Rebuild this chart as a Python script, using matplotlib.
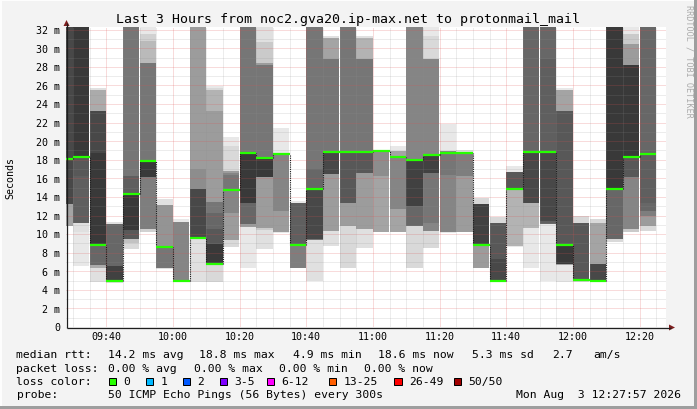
import matplotlib
matplotlib.use('Agg')
import matplotlib.pyplot as plt
from matplotlib.patches import Rectangle, Polygon

W, H = 697, 410
plt.rcParams['font.family'] = ['DejaVu Sans Mono', 'DejaVu Sans']

title = 'Last 3 Hours from noc2.gva20.ip-max.net to protonmail_mail'
t_start = '09:27:57'
t_end = '12:27:57'
step_min = 5
y_max = 32.29

# one 5 minute step per entry
bar_start = ['09:25', '09:30', '09:35', '09:40', '09:45', '09:50', '09:55',
             '10:00', '10:05', '10:10', '10:15', '10:20', '10:25', '10:30',
             '10:35', '10:40', '10:45', '10:50', '10:55', '11:00', '11:05',
             '11:10', '11:15', '11:20', '11:25', '11:30', '11:35', '11:40',
             '11:45', '11:50', '11:55', '12:00', '12:05', '12:10', '12:15',
             '12:20']
median_ms = [18.1, 18.3, 8.8, 4.95, 14.3, 17.9, 8.65, 4.95, 9.6, 6.8,
             14.7, 18.75, 18.2, 18.6, 8.8, 14.8, 18.8, 18.8, 18.8, 18.9,
             18.3, 17.95, 18.5, 18.7, 18.7, 8.8, 4.9, 14.85, 18.8, 18.8,
             8.8, 5.1, 4.9, 14.9, 18.3, 18.6]

# smoke: (pings outside the band, low ms, high ms); 40 = above the graph
smoke = [
    [(10, 10.9, 40), (22, 13.2, 40)],
    [(1, 6.6, 40), (2, 10.2, 40), (19, 11.2, 40), (20, 16.3, 40), (24, 18.3, 40)],
    [(2, 4.8, 25.7), (9, 6.3, 25.5), (18, 6.7, 23.2), (22, 8.8, 23.2), (24, 8.8, 18.7)],
    [(2, 4.75, 11.3), (18, 4.9, 11.1), (23, 4.9, 6.6)],
    [(3, 8.4, 40), (6, 9.0, 40), (16, 9.5, 40), (19, 9.5, 16.3), (20, 9.5, 14.3), (24, 10.4, 14.3)],
    [(1, 10.2, 40), (4, 10.2, 31.5), (7, 10.5, 30.8), (15, 10.5, 28.4), (16, 16.1, 28.4), (24, 16.1, 17.9)],
    [(2, 6.25, 13.8), (12, 6.4, 13.1), (16, 6.4, 8.65)],
    [(1, 4.8, 11.6), (14, 4.95, 11.3)],
    [(2, 4.8, 40), (11, 9.6, 40), (13, 9.6, 17.0), (22, 9.6, 14.85)],
    [(1, 4.8, 25.9), (3, 4.8, 25.7), (8, 6.8, 25.5), (11, 6.8, 23.3), (16, 6.8, 13.5),
     (18, 6.8, 12.3), (20, 6.8, 10.5), (24, 6.8, 8.9)],
    [(1, 8.6, 20.5), (3, 8.6, 19.5), (11, 9.4, 16.8), (14, 12.3, 16.6), (16, 14.7, 16.4)],
    [(1, 6.4, 40), (11, 10.8, 40), (16, 11.1, 40), (18, 11.1, 18.75), (24, 13.4, 18.75)],
    [(2, 8.4, 40), (5, 10.4, 30.7), (11, 10.7, 28.4), (16, 16.1, 28.2), (24, 16.1, 18.2)],
    [(1, 10.1, 21.4), (11, 10.2, 18.7), (14, 12.5, 18.6)],
    [(1, 6.3, 13.6), (15, 6.3, 13.4), (19, 8.8, 13.4)],
    [(2, 5.0, 40), (16, 9.4, 40), (18, 9.5, 17.0), (22, 9.5, 14.8)],
    [(2, 8.7, 31.3), (10, 10.3, 31.1), (11, 10.3, 28.8), (16, 16.5, 28.8), (22, 16.5, 18.8)],
    [(3, 6.4, 40), (11, 10.9, 40), (16, 13.4, 40), (20, 13.4, 18.8)],
    [(2, 8.55, 31.3), (8, 10.5, 31.1), (11, 10.5, 28.8), (16, 16.6, 28.8), (20, 16.6, 18.8)],
    [(1, 10.2, 19.1), (10, 10.2, 18.85), (13, 16.2, 18.85)],
    [(1, 10.2, 19.5), (10, 10.2, 18.9), (14, 12.7, 18.3)],
    [(3, 6.4, 40), (14, 10.9, 40), (18, 10.9, 18.0), (23, 13.0, 18.0)],
    [(1, 8.5, 40), (3, 8.5, 31.3), (14, 10.3, 28.8), (16, 11.2, 18.5), (23, 16.6, 18.5)],
    [(1, 10.1, 21.8), (14, 10.2, 18.9), (16, 16.4, 18.7)],
    [(2, 10.2, 19.1), (11, 10.2, 18.8), (15, 16.2, 18.7)],
    [(3, 6.3, 13.9), (11, 6.3, 13.2), (23, 8.8, 13.2)],
    [(3, 4.9, 11.8), (20, 4.9, 11.2), (22, 4.9, 7.3)],
    [(1, 8.6, 17.3), (8, 8.7, 16.7), (20, 14.85, 16.7)],
    [(1, 6.4, 40), (8, 10.7, 40), (18, 13.3, 40), (22, 13.3, 18.8)],
    [(1, 5.0, 40), (18, 11.1, 40), (19, 11.2, 28.8), (22, 11.4, 18.8)],
    [(1, 4.8, 25.7), (10, 6.7, 25.5), (20, 6.8, 23.2), (24, 6.8, 8.8)],
    [(3, 4.8, 11.9), (20, 5.0, 11.2)],
    [(3, 4.9, 11.6), (10, 4.9, 11.2), (22, 4.9, 6.8)],
    [(3, 9.2, 40), (18, 9.5, 40), (24, 14.9, 40)],
    [(1, 10.2, 40), (5, 10.2, 31.5), (11, 10.5, 30.5), (14, 10.5, 28.2), (20, 16.1, 28.2),
     (24, 18.3, 28.2)],
    [(3, 10.3, 40), (11, 10.9, 40), (15, 12.0, 40), (18, 12.5, 40), (19, 13.4, 18.6)],
]

x_ticks = ['09:40', '10:00', '10:20', '10:40', '11:00', '11:20', '11:40', '12:00', '12:20']
y_ticks = [0, 2, 4, 6, 8, 10, 12, 14, 16, 18, 20, 22, 24, 26, 28, 30, 32]

rtt_stats = ['14.2 ms avg', '18.8 ms max', '4.9 ms min', '18.6 ms now', '5.3 ms sd', '2.7', 'am/s']
loss_stats = ['0.00 % avg', '0.00 % max', '0.00 % min', '0.00 % now']
loss_labels = ['0', '1', '2', '3-5', '6-12', '13-25', '26-49', '50/50']
loss_colors = ['#26ff00', '#00b8ff', '#0059ff', '#7e00ff', '#ff00ff', '#ff5e00', '#ff0000', '#a10000']
probe_text = '50 ICMP Echo Pings (56 Bytes) every 300s'
stamp = 'Mon Aug  3 12:27:57 2026'


def minutes(s):
    p = [int(v) for v in s.split(':')]
    m = p[0] * 60 + p[1]
    if len(p) > 2:
        m += p[2] / 60.0
    return m


def gray(rank):
    # smokeping shade: the more pings outside the band, the darker
    g = int(190 / 25 * (25 - rank)) + 50
    return '#%02x%02x%02x' % (g, g, g)


fig = plt.figure(figsize=(W / 100, H / 100), dpi=100)
fig.patch.set_facecolor('#f3f3f3')

ax = fig.add_axes([66 / W, 1 - 328 / H, 600 / W, 300 / H])
ax.set_facecolor('white')
ax.set_xlim(minutes(t_start), minutes(t_end))
ax.set_ylim(0, y_max)
ax.set_xticks([])
ax.set_yticks([])
for sp in ax.spines.values():
    sp.set_visible(False)

# smoke
for i, bands in enumerate(smoke):
    t = minutes(bar_start[i])
    for rank, lo, hi in sorted(bands):
        ax.add_patch(Rectangle((t, lo), step_min, hi - lo, facecolor=gray(rank),
                               edgecolor='none', lw=0, antialiased=False, zorder=1))

# grid (drawn over the smoke, like rrdtool)
red_kw = dict(color='#de4f4f', alpha=0.4, lw=0.72, ls=(0, (1, 1)), zorder=2)
grey_kw = dict(color='#8f8f8f', alpha=0.33, lw=0.72, ls=(0, (1, 1)), zorder=2)
for v in y_ticks[1:]:
    ax.axhline(v, **red_kw)
    ax.axhline(v - 1, **grey_kw)
major_x = [minutes(s) for s in x_ticks]
for s in bar_start:
    x = minutes(s) + step_min
    if x in major_x:
        ax.axvline(x, **red_kw)
    else:
        ax.axvline(x, **grey_kw)

# median steps
for i in range(1, len(median_ms)):
    x = minutes(bar_start[i])
    ax.vlines(x, min(median_ms[i - 1], median_ms[i]), max(median_ms[i - 1], median_ms[i]),
              colors='#1a1a1a', lw=0.8, linestyles=(0, (1, 1)), zorder=3)
starts = [minutes(s) for s in bar_start]
ends = [s + step_min for s in starts]
med = ax.hlines(median_ms, starts, ends, colors=loss_colors[0], lw=1.6, zorder=4)
med.set_capstyle('butt')

# overlay in pixel coordinates for texts, axes and frame
ov = fig.add_axes([0, 0, 1, 1])
ov.set_xlim(0, W)
ov.set_ylim(H, 0)
ov.axis('off')

ov.plot([66.5, 671], [328.5, 328.5], color='#1f1f1f', lw=0.9, solid_capstyle='butt')
ov.plot([66.5, 66.5], [328.5, 24], color='#1f1f1f', lw=0.9, solid_capstyle='butt')
ov.add_patch(Polygon([(669, 325.5), (669, 331.5), (675, 328.5)], closed=True,
                     facecolor='#7f1f1f', edgecolor='none'))
ov.add_patch(Polygon([(63.5, 27), (69.5, 27), (66.5, 21)], closed=True,
                     facecolor='#7f1f1f', edgecolor='none'))

# frame shading
ov.add_patch(Rectangle((0, 0), W, 1.5, facecolor='#fdfdfd', edgecolor='none'))
ov.add_patch(Rectangle((0, 0), 1.5, H, facecolor='#fdfdfd', edgecolor='none'))
ov.add_patch(Rectangle((W - 3, 0), 3, H, facecolor='#9e9e9e', edgecolor='none'))
ov.add_patch(Rectangle((0, H - 3), W, 3, facecolor='#9e9e9e', edgecolor='none'))

ov.text(348.5, 19, title, fontsize=9.5, ha='center', va='center')
ov.text(10, 178, 'Seconds', fontsize=7.2, rotation=90, ha='center', va='center')
ov.text(688.5, 5, 'RRDTOOL / TOBI OETIKER', fontsize=6.1, rotation=270,
        ha='center', va='top', color='#ababab')

x_px = lambda s: 66 + (minutes(s) - minutes(t_start)) * 600 / 180.0
for s in x_ticks:
    ov.text(x_px(s), 337.5, s, fontsize=7.2, ha='center', va='center')
for v in y_ticks:
    lab = '0' if v == 0 else '%d m' % v
    ov.text(60.5, 328.3 - v * 9.29, lab, fontsize=7.2, ha='right', va='center')

fs = 8.2
rows = [358.3, 371.7, 385.0, 398.3]
ov.text(16.5, rows[0], 'median rtt:', fontsize=fs, va='baseline')
for x, s in zip([107.5, 199, 293, 378.5, 472.5, 552.5, 593.5], rtt_stats):
    ov.text(x, rows[0], s, fontsize=fs, va='baseline')
ov.text(16.5, rows[1], 'packet loss:', fontsize=fs, va='baseline')
for x, s in zip([107.5, 193.5, 279, 364.5], loss_stats):
    ov.text(x, rows[1], s, fontsize=fs, va='baseline')
ov.text(16.5, rows[2], 'loss color:', fontsize=fs, va='baseline')
box_x = [108.5, 145.5, 182.5, 219.5, 266.5, 328.5, 394, 453.5]
for bx, lab, col in zip(box_x, loss_labels, loss_colors):
    ov.add_patch(Rectangle((bx, 378.5), 7.5, 7.5, facecolor=col, edgecolor='black', lw=0.72))
    ov.text(bx + 15, rows[2], lab, fontsize=fs, va='baseline')
ov.text(16.5, rows[3], 'probe:', fontsize=fs, va='baseline')
ov.text(107.5, rows[3], probe_text, fontsize=fs, va='baseline')
ov.text(681, rows[3], stamp, fontsize=fs, va='baseline', ha='right')

fig.savefig('out.png', dpi=100, facecolor=fig.get_facecolor())
